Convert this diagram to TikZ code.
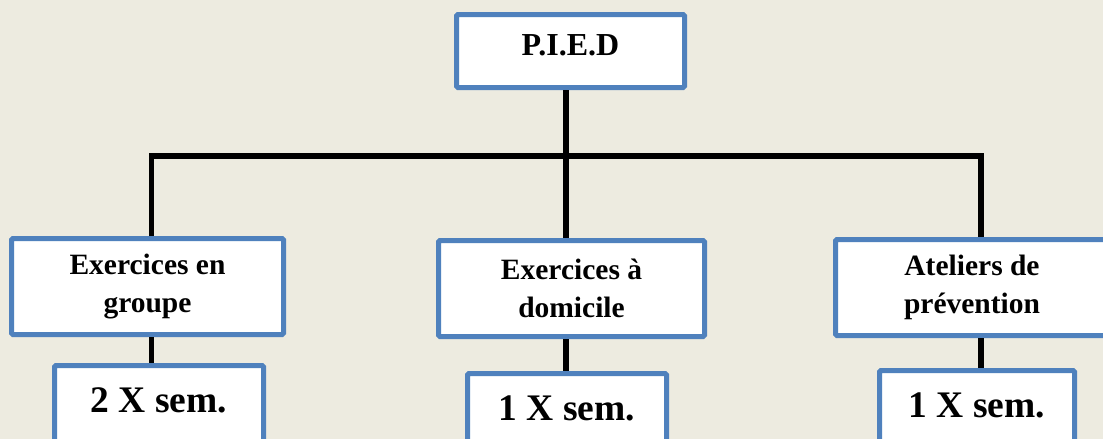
\documentclass[tikz,border=0pt]{standalone}
\usepackage{fontspec}
\setmainfont{Liberation Serif}
\usepackage{tikz}
\definecolor{fond}{RGB}{237,235,224}
\definecolor{bordbleu}{RGB}{79,129,189}

\begin{document}
\begin{tikzpicture}[x=1pt,y=-1pt,
    every node/.style={draw=bordbleu,line width=5pt,fill=white,rounded corners=1.5pt,align=center,inner xsep=0pt},
    titre/.style={minimum width=228pt,text height=22pt,text depth=14pt,inner ysep=18.5pt,font=\bfseries\fontsize{32}{37}\selectfont},
    activite/.style={minimum width=#1,minimum height=96pt,font=\bfseries\fontsize{29.5}{38.5}\selectfont},
    frequence/.style={minimum width=#1,text height=27pt,text depth=24pt,inner ysep=19.5pt,font=\bfseries\fontsize{37.5}{40}\selectfont},
    lien/.style={line width=5.5pt}]
    \useasboundingbox (0,0) rectangle (1103,439);
    \clip (0,0) rectangle (1103,439);
    \fill[fond] (0,0) rectangle (1103,439);

    \node[titre](pied) at (570.5,51) {P.I.E.D};

    \node[activite=272pt](act1) at (147.5,286.5) {Exercices en\\groupe};
    \node[activite=266pt](act2) at (571.5,288.5) {Exercices à\\domicile};
    \node[activite=273pt](act3) at (972,287.5) {Ateliers de\\prévention};

    \node[frequence=209pt](freq1) at (159,410.5) {2 X sem.};
    \node[frequence=199pt](freq2) at (567,418.5) {1 X sem.};
    \node[frequence=195pt](freq3) at (977,415.5) {1 X sem.};

    \coordinate (j1) at (151.5,156);
    \coordinate (j2) at (566,156);
    \coordinate (j3) at (981,156);

    \draw[lien] (pied.south -| j2) -- (act2.north -| j2);
    \draw[lien] (act1.north -| j1) -- (j1) -- (j3) -- (act3.north -| j3);
    \draw[lien] (act1.south -| j1) -- (freq1.north -| j1);
    \draw[lien] (act2.south -| j2) -- (freq2.north -| j2);
    \draw[lien] (act3.south -| j3) -- (freq3.north -| j3);
\end{tikzpicture}
\end{document}
